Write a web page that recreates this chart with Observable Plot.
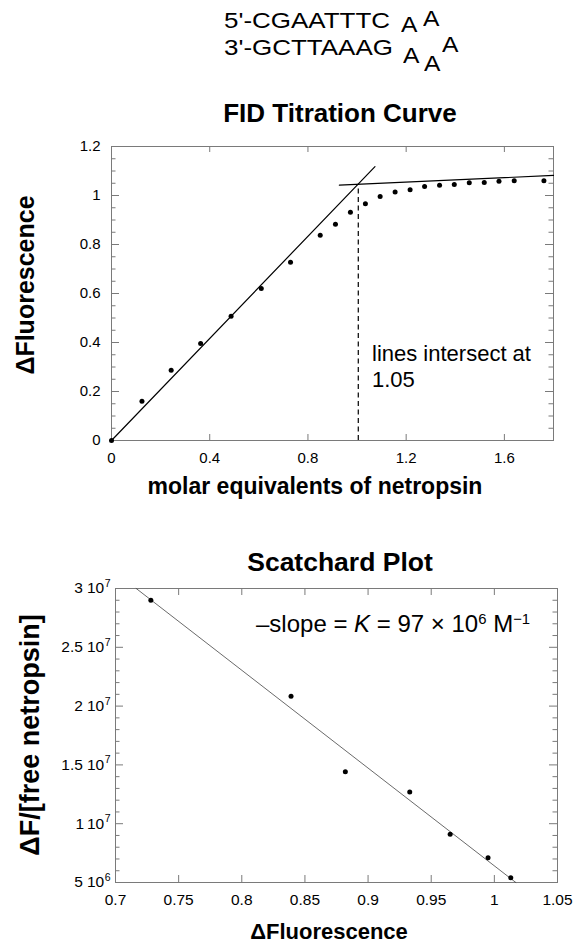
<!DOCTYPE html>
<html><head><meta charset="utf-8">
<script src="https://cdn.jsdelivr.net/npm/d3@7"></script>
<script src="https://cdn.jsdelivr.net/npm/@observablehq/plot@0.6"></script>
<style>
html,body{margin:0;padding:0;background:#fff;overflow:hidden}
#page{position:relative;width:574px;height:946px;font-family:"Liberation Sans",Arial,Helvetica,sans-serif;color:#000}
.abs{position:absolute;white-space:nowrap;line-height:1;z-index:2}
.plot{position:absolute;left:0}
.sup{font-size:0.62em;position:relative;top:-0.55em;line-height:0}
</style></head>
<body><div id="page"></div>
<script>
// ---------- data: FID titration curve ----------
const titrX = [0, 0.124, 0.243, 0.363, 0.487, 0.610, 0.729, 0.850, 0.912, 0.973, 1.034, 1.094, 1.155, 1.216, 1.275, 1.336, 1.396, 1.457, 1.518, 1.578, 1.640, 1.761];
const titrY = [0, 0.160, 0.287, 0.396, 0.507, 0.620, 0.728, 0.838, 0.883, 0.932, 0.966, 0.996, 1.014, 1.023, 1.037, 1.042, 1.045, 1.052, 1.053, 1.058, 1.060, 1.060];
const steepX = [0, 1.073];
const steepY = [0, 1.118];
const flatX = [0.928, 1.8];
const flatY = [1.042, 1.082];
const intersectX = [1.005];
const intersectTopY = 1.045;
const xTicks1 = [0, 0.4, 0.8, 1.2, 1.6];
const xTickLabels1 = ["0", "0.4", "0.8", "1.2", "1.6"];
const yTicks1 = [0, 0.2, 0.4, 0.6, 0.8, 1, 1.2];
const yTickLabels1 = ["0", "0.2", "0.4", "0.6", "0.8", "1", "1.2"];
const yMinor1 = [0.05, 0.1, 0.15, 0.25, 0.3, 0.35, 0.45, 0.5, 0.55, 0.65, 0.7, 0.75, 0.85, 0.9, 0.95, 1.05, 1.1, 1.15];

// ---------- data: Scatchard plot ----------
const scatX = [0.728, 0.839, 0.882, 0.933, 0.965, 0.995, 1.013];
const scatY = [2.90e7, 2.083e7, 1.442e7, 1.27e7, 9.11e6, 7.1e6, 5.41e6];
const scatFitX = [0.7164, 1.017];
const scatFitY = [3e7, 5e6];
const xTicks2 = [0.7, 0.75, 0.8, 0.85, 0.9, 0.95, 1, 1.05];
const xTickLabels2 = ["0.7", "0.75", "0.8", "0.85", "0.9", "0.95", "1", "1.05"];
const xInner2 = [0.75, 0.8, 0.85, 0.9, 0.95, 1];
const yTicks2 = [5e6, 1e7, 1.5e7, 2e7, 2.5e7, 3e7];
const yMant2 = ["5", "1", "1.5", "2", "2.5", "3"];
const yExp2 = ["6", "7", "7", "7", "7", "7"];
const yMinor2 = [6e6, 7e6, 8e6, 9e6, 1.1e7, 1.2e7, 1.3e7, 1.4e7, 1.6e7, 1.7e7, 1.8e7, 1.9e7, 2.1e7, 2.2e7, 2.3e7, 2.4e7, 2.6e7, 2.7e7, 2.8e7, 2.9e7];

const FONT = '"Liberation Sans", Arial, Helvetica, sans-serif';
const GRAY = "#7a7a7a";
const W = 574;
const page = document.getElementById("page");

const titration = titrX.map((x, i) => ({x, y: titrY[i]}));
const steep = steepX.map((x, i) => ({x, y: steepY[i]}));
const flat = flatX.map((x, i) => ({x, y: flatY[i]}));
const scat = scatX.map((x, i) => ({x, y: scatY[i]}));
const scatFit = scatFitX.map((x, i) => ({x, y: scatFitY[i]}));

// ---------- chart 1 ----------
const H1 = 470, mT1 = 146, mB1 = 30, mL1 = 111, mR1 = 21;
const ph1 = H1 - mT1 - mB1, pw1 = W - mL1 - mR1;
const chart1 = Plot.plot({
  width: W, height: H1,
  marginTop: mT1, marginBottom: mB1, marginLeft: mL1, marginRight: mR1,
  style: {fontFamily: FONT, fontSize: "15px", color: "#000", background: "transparent", overflow: "visible"},
  x: {domain: [0, 1.8], label: null},
  y: {domain: [0, 1.2], label: null},
  marks: [
    Plot.frame({stroke: GRAY}),
    Plot.tickX(xTicks1, {x: d => d, insetTop: ph1 - 6, stroke: GRAY}),
    Plot.tickX(xTicks1, {x: d => d, insetBottom: ph1 - 6, stroke: GRAY}),
    Plot.tickY(yTicks1, {y: d => d, insetRight: pw1 - 8, stroke: GRAY}),
    Plot.tickY(yTicks1, {y: d => d, insetLeft: pw1 - 8, stroke: GRAY}),
    Plot.tickY(yMinor1, {y: d => d, insetRight: pw1 - 4.5, stroke: GRAY}),
    Plot.tickY(yMinor1, {y: d => d, insetLeft: pw1 - 4.5, stroke: GRAY}),
    Plot.axisX({ticks: xTicks1, tickSize: 0, tickPadding: 12, label: null, fontSize: 15,
      tickFormat: d => xTickLabels1[xTicks1.indexOf(d)]}),
    Plot.axisY({ticks: yTicks1, tickSize: 0, tickPadding: 11, label: null, fontSize: 15,
      tickFormat: d => yTickLabels1[yTicks1.indexOf(d)]}),
    Plot.ruleX(intersectX, {x: d => d, y1: 0, y2: intersectTopY, stroke: "#000", strokeWidth: 1.2, strokeDasharray: "5,3.5"}),
    Plot.line(steep, {x: "x", y: "y", stroke: "#000", strokeWidth: 1.2}),
    Plot.line(flat, {x: "x", y: "y", stroke: "#000", strokeWidth: 1.2}),
    Plot.dot(titration, {x: "x", y: "y", r: 2.5, fill: "#000", stroke: "none"})
  ]
});
chart1.classList.add("plot");
chart1.style.top = "0px";
page.appendChild(chart1);

// ---------- chart 2 ----------
const top2 = 470;
const H2 = 476, mT2 = 118, mB2 = 64, mL2 = 115, mR2 = 17;
const ph2 = H2 - mT2 - mB2, pw2 = W - mL2 - mR2;
const chart2 = Plot.plot({
  width: W, height: H2,
  marginTop: mT2, marginBottom: mB2, marginLeft: mL2, marginRight: mR2,
  style: {fontFamily: FONT, fontSize: "15px", color: "#000", background: "transparent", overflow: "visible"},
  x: {domain: [0.7, 1.05], label: null},
  y: {domain: [5e6, 3e7], label: null},
  marks: [
    Plot.frame({stroke: GRAY}),
    Plot.tickX(xInner2, {x: d => d, insetTop: ph2 - 7, stroke: GRAY}),
    Plot.tickX(xInner2, {x: d => d, insetBottom: ph2 - 7, stroke: GRAY}),
    Plot.tickY(yTicks2, {y: d => d, insetRight: pw2 - 8, stroke: GRAY}),
    Plot.tickY(yTicks2, {y: d => d, insetLeft: pw2 - 8, stroke: GRAY}),
    Plot.tickY(yMinor2, {y: d => d, insetRight: pw2 - 4.5, stroke: GRAY}),
    Plot.tickY(yMinor2, {y: d => d, insetLeft: pw2 - 4.5, stroke: GRAY}),
    Plot.axisX({ticks: xTicks2, tickSize: 0, tickPadding: 11, label: null, fontSize: 15.5,
      tickFormat: d => xTickLabels2[xTicks2.indexOf(d)]}),
    Plot.axisY({ticks: yTicks2, tickSize: 0, tickPadding: 5, label: null, fontSize: 15.5,
      tickFormat: d => { const i = yTicks2.indexOf(d); return yMant2[i] + "|" + yExp2[i]; }}),
    Plot.line(scatFit, {x: "x", y: "y", stroke: "#444", strokeWidth: 0.8}),
    Plot.dot(scat, {x: "x", y: "y", r: 2.5, fill: "#000", stroke: "none"})
  ]
});
chart2.classList.add("plot");
chart2.style.top = top2 + "px";
page.appendChild(chart2);

// superscript exponents on the y tick labels ("3 10^7")
const NS = "http://www.w3.org/2000/svg";
chart2.querySelectorAll('g[aria-label="y-axis tick label"] text').forEach(t => {
  const [m, e] = t.textContent.split("|");
  t.textContent = "";
  const a = document.createElementNS(NS, "tspan"); a.textContent = m; t.appendChild(a);
  const b = document.createElementNS(NS, "tspan"); b.setAttribute("dx", "4"); b.textContent = "10"; t.appendChild(b);
  const c = document.createElementNS(NS, "tspan"); c.setAttribute("dx", "0.5"); c.setAttribute("dy", "-6.5");
  c.setAttribute("font-size", "10.5"); c.textContent = e; t.appendChild(c);
});

// ---------- text helpers ----------
function txt(html, {x, base, size, bold = false, anchor = "start", scaleX = 1}) {
  const d = document.createElement("div");
  d.className = "abs";
  d.innerHTML = html;
  d.style.fontSize = size + "px";
  d.style.fontWeight = bold ? "bold" : "normal";
  d.style.left = x + "px";
  d.style.top = (base - 0.8465 * size) + "px";
  const tr = [];
  if (anchor === "middle") tr.push("translateX(-50%)");
  if (scaleX !== 1) { tr.push(`scaleX(${scaleX})`); d.style.transformOrigin = anchor === "middle" ? "50% 50%" : "0 50%"; }
  if (tr.length) d.style.transform = tr.join(" ");
  page.appendChild(d);
  return d;
}
function vtxt(html, {cx, cy, size, bold = true}) {
  const d = document.createElement("div");
  d.className = "abs";
  d.innerHTML = html;
  d.style.fontSize = size + "px";
  d.style.fontWeight = bold ? "bold" : "normal";
  d.style.left = cx + "px";
  d.style.top = cy + "px";
  d.style.transform = "translate(-50%,-50%) rotate(-90deg)";
  page.appendChild(d);
  return d;
}

// header (DNA hairpin)
txt("5'-CGAATTTC", {x: 224, base: 29, size: 22, scaleX: 1.18});
txt("3'-GCTTAAAG", {x: 224, base: 56, size: 22, scaleX: 1.18});
txt("A", {x: 401, base: 33, size: 22, scaleX: 1.12});
txt("A", {x: 423, base: 27, size: 22, scaleX: 1.12});
txt("A", {x: 403, base: 64, size: 22, scaleX: 1.12});
txt("A", {x: 424, base: 72, size: 22, scaleX: 1.12});
txt("A", {x: 442, base: 53, size: 22, scaleX: 1.12});

// chart 1 texts
txt("FID Titration Curve", {x: 340, base: 122, size: 26, bold: true, anchor: "middle"});
txt("molar equivalents of netropsin", {x: 315, base: 494, size: 23, bold: true, anchor: "middle"});
vtxt("ΔFluorescence", {cx: 25, cy: 285, size: 25});
txt("lines intersect at", {x: 372, base: 362, size: 22});
txt("1.05", {x: 372, base: 388, size: 22});

// chart 2 texts
txt("Scatchard Plot", {x: 340, base: 571, size: 26.5, bold: true, anchor: "middle"});
txt("–slope = <i>K</i> = 97 × 10<span class='sup'>6</span> M<span class='sup'>−1</span>", {x: 256, base: 632, size: 24});
vtxt("ΔF/[free netropsin]", {cx: 30, cy: 735, size: 27});
txt("ΔFluorescence", {x: 329, base: 940, size: 22, bold: true, anchor: "middle"});
</script>
</body></html>
